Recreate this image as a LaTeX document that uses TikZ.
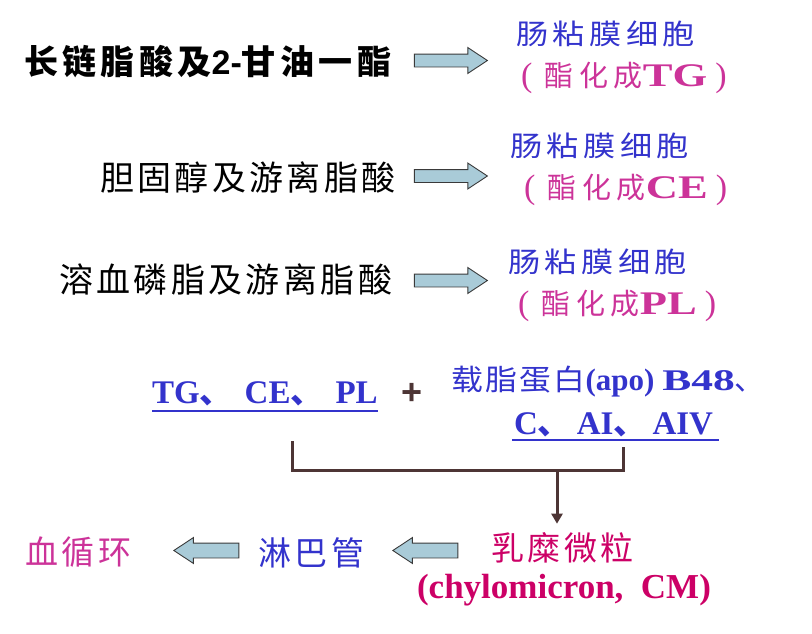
\documentclass[tikz,border=0pt]{standalone}
\usepackage{fontspec}
\usepackage{graphicx}
\setmainfont{Liberation Serif}
\newfontfamily\tnr{Liberation Serif}
\newfontfamily\tnrwide[FakeStretch=1.35]{Liberation Serif}
\newfontfamily\tnrwider[FakeStretch=1.45]{Liberation Serif}
\newfontfamily\arialf{Liberation Sans}
\newfontfamily\cjkplain{Noto Sans CJK SC}
\newfontfamily\cjkone[LetterSpace=13]{Noto Sans CJK SC}
\newfontfamily\cjkblack[LetterSpace=10]{Noto Sans CJK SC}
\newfontfamily\cjkwide[FakeStretch=1.15,LetterSpace=16]{Noto Sans CJK SC}
\newfontfamily\cjkmag[LetterSpace=20]{Noto Sans CJK SC}
\newfontfamily\cjkapo[FakeStretch=1.1,LetterSpace=8]{Noto Sans CJK SC}
\newfontfamily\cjkbot[LetterSpace=11]{Noto Sans CJK SC}
\usetikzlibrary{shapes.arrows,arrows.meta,calc}
\definecolor{tblue}{HTML}{3333CC}
\definecolor{tmag}{HTML}{CC3399}
\definecolor{tred}{HTML}{CC0066}
\definecolor{afill}{HTML}{A9CBD8}
\definecolor{aline}{HTML}{3A3A3A}
\definecolor{brk}{HTML}{4D3535}
\newcommand\fsz[1]{\fontsize{#1}{#1}\selectfont}
\newcommand\magline[1]{{\tnr\fsz{34}(}\hspace{12pt}{\cjkmag\fsz{29}酯化成}{\tnrwide\bfseries\fsz{33}#1}\hspace{8pt}{\tnr\fsz{34})}}
\begin{document}
\begin{tikzpicture}[x=1pt,y=-1pt,
  txt/.style={inner sep=0pt, outer sep=0pt},
  barrow/.style={single arrow, draw=aline, fill=afill, line width=0.9pt,
    minimum height=73pt, minimum width=25pt, inner sep=6pt,
    single arrow head extend=6.5pt, single arrow tip angle=67},
  larrow/.style={barrow, minimum height=65pt, inner sep=7pt,
    single arrow head extend=5.5pt, shape border rotate=180},
  uline/.style={tblue, line width=1.3pt},
  bracket/.style={brk, line width=3pt}]
\useasboundingbox (0,0) rectangle (812,633);
% row 1
\node[txt, anchor=west] (s1) at (24,62) {\fsz{34}\cjkone\bfseries 长链脂酸及{\arialf\bfseries 2-}甘油一酯};
\node[barrow] (a1) at (446,60.5) {};
\node[txt, anchor=west, text=tblue] (b1) at (516,34) {\fsz{28}\cjkwide 肠粘膜细胞};
\node[txt, anchor=base west, text=tmag] (m1) at (521,86) {\magline{TG}};
% row 2
\node[txt, anchor=west] (s2) at (100,177) {\fsz{34}\cjkblack 胆固醇及游离脂酸};
\node[barrow] (a2) at (446,176) {};
\node[txt, anchor=west, text=tblue] (b2) at (510,146) {\fsz{28}\cjkwide 肠粘膜细胞};
\node[txt, anchor=base west, text=tmag] (m2) at (524,198) {\magline{CE}};
% row 3
\node[txt, anchor=west] (s3) at (59,280) {\fsz{34}\cjkblack 溶血磷脂及游离脂酸};
\node[barrow] (a3) at (446,280.5) {};
\node[txt, anchor=west, text=tblue] (b3) at (508,262) {\fsz{28}\cjkwide 肠粘膜细胞};
\node[txt, anchor=base west, text=tmag] (m3) at (518,314) {\magline{PL}};
% row 4
\node[txt, anchor=base west, text=tblue] (tg) at (152,403) {\fsz{33}\tnr\bfseries TG{\cjkplain 、}\hspace{12pt}CE{\cjkplain 、}\hspace{12pt}PL};
\draw[uline] ($(tg.base west)+(0,8)$) -- ($(tg.base east)+(0,8)$);
\node[txt, text=brk] (plus) at (412,394) {\fsz{36}\arialf\bfseries +};
\node[txt, anchor=base west, text=tblue] (apo1) at (451,390) {{\cjkapo\fsz{29}载脂蛋白}{\tnr\bfseries\fsz{31}(apo)}\hspace{8pt}{\tnrwider\bfseries\fsz{30}B48}{\cjkplain\fsz{30}、}};
\node[txt, anchor=base west, text=tblue] (apo2) at (514,434) {\fsz{33}\tnr\bfseries C{\cjkplain 、}\hspace{6pt}AI{\cjkplain 、}\hspace{6pt}AIV};
\draw[uline] ($(apo2.base west)+(-2,6)$) -- ($(apo2.base east)+(6,6)$);
% bracket and arrow
\coordinate (bl) at (292,441);
\coordinate (br) at (623,447);
\coordinate (bm) at (557,470);
\draw[bracket] (bl) -- (bl |- bm) -- (br |- bm) -- (br);
% row 5
\node[txt, anchor=west, text=tred] (cm) at (491,548) {\fsz{33}\cjkbot 乳糜微粒};
\node[txt, text=tred] (cmen) at (564,590) {\fsz{35}\tnr\bfseries (chylomicron,\ \ CM)};
\draw[bracket, -{Triangle[length=10pt,width=11pt]}, shorten >=9pt] (bm) -- (bm |- cm.north);
\node[larrow] (a5) at (431,550.5) {};
\node[txt, anchor=west, text=tblue] (lb) at (258,553) {\fsz{33}\cjkbot 淋巴管};
\node[larrow] (a4) at (212,550.5) {};
\node[txt, anchor=west, text=tmag] (bc) at (25,552) {\fsz{33}\cjkbot 血循环};
\end{tikzpicture}
\end{document}
